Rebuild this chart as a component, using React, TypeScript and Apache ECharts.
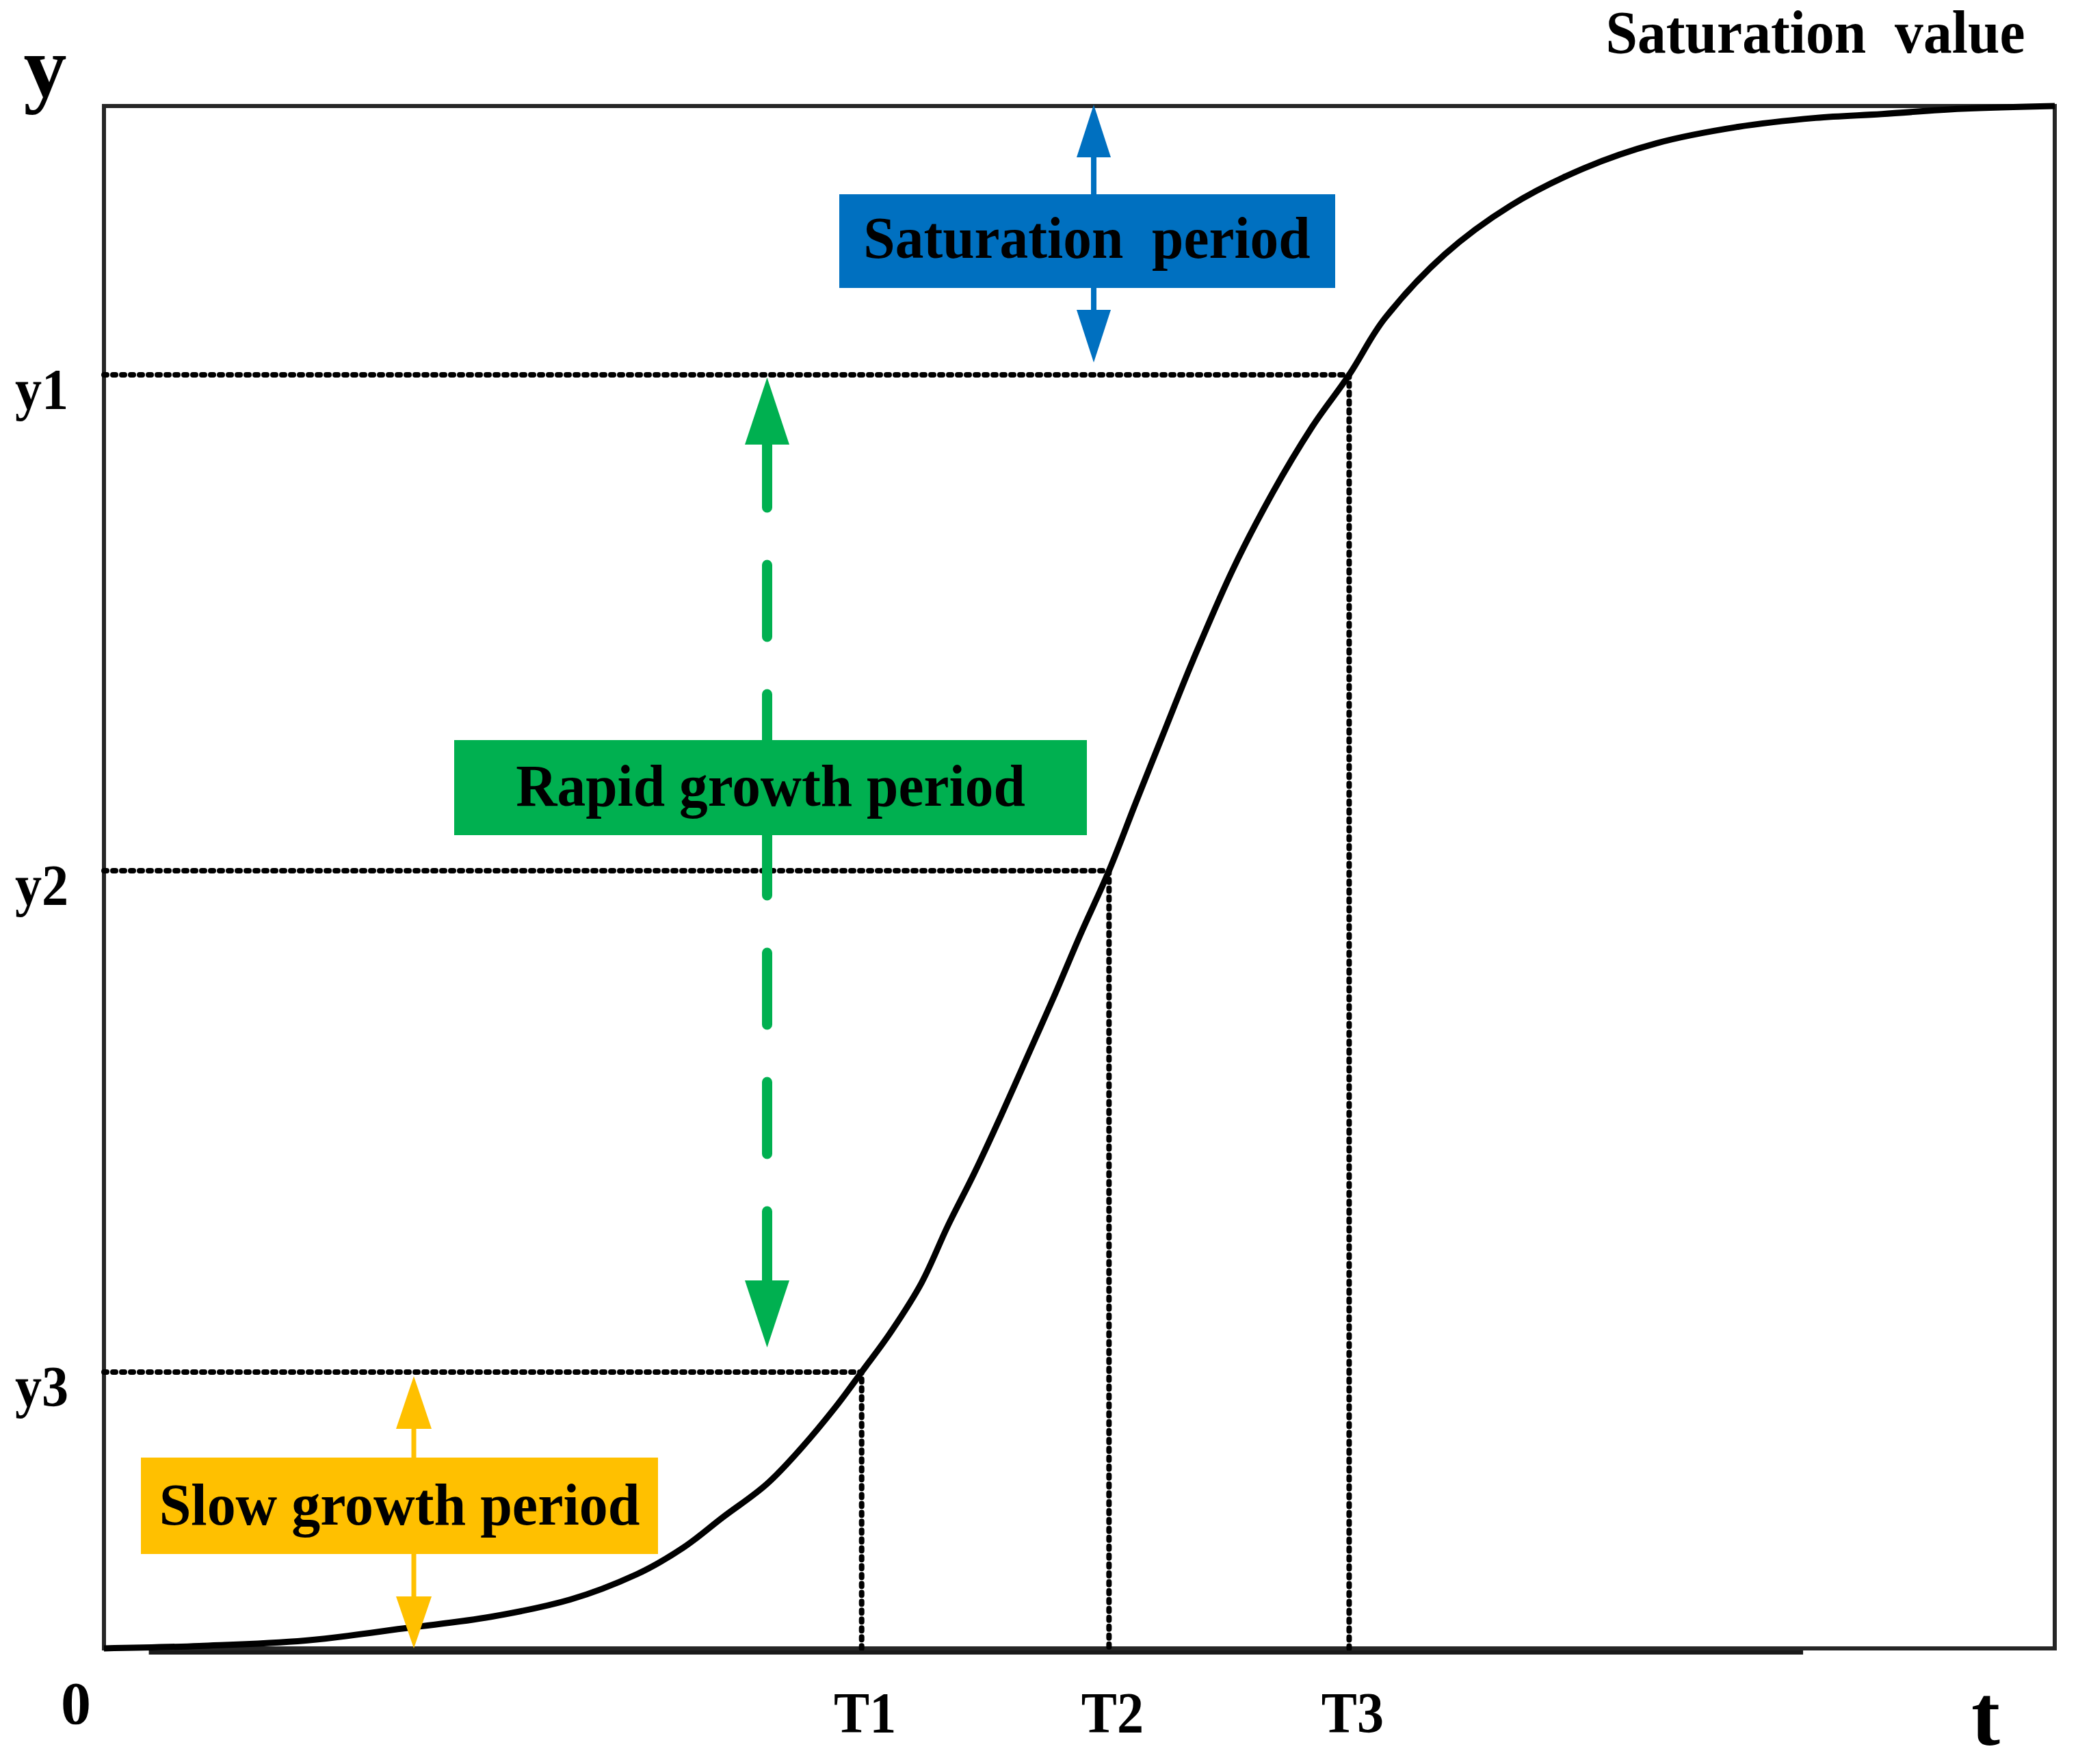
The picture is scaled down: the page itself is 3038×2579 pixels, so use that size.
import React, { useEffect, useRef } from "react";
import * as echarts from "echarts";

// ---- data (arbitrary units: t 0..100, y 0..100 where 100 = saturation value) ----
const curveT = [0, 4.89, 10.33, 15.76, 19.84, 23.91, 27.3, 29.68, 31.72, 33.96, 35.79, 37.49, 38.84, 40.34, 41.91, 43.26, 44.62, 45.98, 47.34, 48.7, 50.06, 51.52, 52.91, 54.27, 55.83, 57.86, 59.9, 61.94, 63.83, 65.67, 68.73, 72.13, 75.86, 79.6, 83.67, 87.75, 91.14, 95.22, 100];
const curveY = [0, 0.16, 0.51, 1.36, 2.05, 3.17, 4.8, 6.52, 8.5, 10.64, 13.05, 15.63, 17.92, 20.52, 23.7, 27.4, 30.83, 34.53, 38.39, 42.26, 46.3, 50.42, 54.89, 59.19, 64.08, 69.93, 74.91, 79.21, 82.57, 86.25, 90.38, 93.56, 95.96, 97.59, 98.63, 99.23, 99.48, 99.82, 100];
const pointT = [38.84, 51.52, 63.83];
const pointY = [17.92, 50.42, 82.57];
const tLabels = ["T1", "T2", "T3"];
const yLabels = ["y3", "y2", "y1"];
const baseLineT = [2.3, 87.1];
const baseLineY = [-0.27, -0.27];
const phaseNames = ["Slow growth period", "Rapid growth period", "Saturation  period"];

const FONT = '"Liberation Serif", "Times New Roman", serif';

export default function App() {
  const ref = useRef<HTMLDivElement>(null);

  useEffect(() => {
    if (!ref.current) return;
    const chart = echarts.init(ref.current, null, { renderer: "svg" });

    const guideSeries = pointT.map((t, i) => ({
      type: "line",
      data: [[0, pointY[i]], [t, pointY[i]], [t, 0]],
      symbol: "none",
      silent: true,
      z: 2,
      lineStyle: { color: "#000", width: 8, type: [4, 9], cap: "round" },
    }));

    chart.setOption({
      animation: false,
      backgroundColor: "#fff",
      grid: {
        left: 152,
        top: 155,
        width: 2852,
        height: 2255,
        show: true,
        borderColor: "#262626",
        borderWidth: 6,
        backgroundColor: "transparent",
      },
      xAxis: { type: "value", min: 0, max: 100, show: false },
      yAxis: { type: "value", min: 0, max: 100, show: false },
      series: [
        ...guideSeries,
        {
          type: "line",
          data: baseLineT.map((t, i) => [t, baseLineY[i]]),
          symbol: "none",
          clip: false,
          silent: true,
          z: 3,
          lineStyle: { color: "#1a1a1a", width: 6 },
        },
        {
          type: "line",
          data: curveT.map((t, i) => [t, curveY[i]]),
          symbol: "none",
          smooth: 0.35,
          clip: false,
          z: 5,
          lineStyle: { color: "#000", width: 9 },
        },
      ],
    });

    const P = (x: number, y: number) => chart.convertToPixel({ gridIndex: 0 }, [x, y]) as number[];
    const yTop = P(0, 100)[1];
    const yBottom = P(0, 0)[1];
    const xLeft = P(0, 0)[0];
    const y1px = P(0, pointY[2])[1];
    const y3px = P(0, pointY[0])[1];

    const text = (t: string, x: number, y: number, size: number, sx = 1) => ({
      type: "text",
      x,
      y,
      scaleX: sx,
      z: 20,
      style: {
        text: t,
        fill: "#000",
        fontSize: size,
        fontWeight: "bold",
        fontFamily: FONT,
        align: "center",
        verticalAlign: "middle",
      },
    });

    const tri = (cx: number, tip: number, base: number, hw: number, color: string) => ({
      type: "polygon",
      z: 12,
      shape: { points: [[cx, tip], [cx - hw, base], [cx + hw, base]] },
      style: { fill: color },
    });

    const shaft = (cx: number, a: number, b: number, w: number, color: string, dash?: number[]) => ({
      type: "line",
      z: 11,
      shape: { x1: cx, y1: a, x2: cx, y2: b },
      style: { stroke: color, lineWidth: w, lineCap: dash ? "round" : "butt", lineDash: dash || null },
    });

    const BLUE = "#0070C0";
    const GREEN = "#00B050";
    const YELLOW = "#FFC000";

    const blueX = 1599;
    const greenX = 1121.5;
    const yellowX = 605;

    const graphic: any[] = [
      // blue (saturation) arrow
      shaft(blueX, yTop + 73, yTop + 300, 8, BLUE),
      tri(blueX, yTop - 2, yTop + 75, 25, BLUE),
      tri(blueX, y1px - 18, y1px - 95, 25, BLUE),
      // green (rapid growth) arrow
      shaft(greenX, y1px + 89, y3px - 131, 15, GREEN, [105, 84]),
      tri(greenX, y1px + 4, y1px + 102, 32.5, GREEN),
      tri(greenX, y3px - 36, y3px - 134, 32.5, GREEN),
      // yellow (slow growth) arrow
      shaft(yellowX, y3px + 81, yBottom - 74, 7, YELLOW),
      tri(yellowX, y3px + 6, y3px + 83, 26, YELLOW),
      tri(yellowX, yBottom, yBottom - 76, 26, YELLOW),
      // boxes
      { type: "rect", z: 15, shape: { x: 1227, y: 284, width: 725, height: 137 }, style: { fill: BLUE } },
      { type: "rect", z: 15, shape: { x: 664, y: 1082, width: 925, height: 139 }, style: { fill: GREEN } },
      { type: "rect", z: 15, shape: { x: 206, y: 2131, width: 756, height: 141 }, style: { fill: YELLOW } },
      text(phaseNames[2], 1589, 348, 86, 0.97),
      text(phaseNames[1], 1126.5, 1149, 86, 0.97),
      text(phaseNames[0], 584, 2199, 87, 0.965),
      // axis labels
      text("y", 66, 98, 126),
      text("t", 2903, 2508, 126),
      text("0", xLeft - 41, 2490, 88),
      text("Saturation  value", 2654, 48, 88, 0.95),
      ...pointT.map((t, i) => text(tLabels[i], P(t, 0)[0] + 5, 2504, 85, 0.92)),
      ...pointY.map((v, i) => text(yLabels[i], 61, P(0, v)[1] + 21, 85, 0.92)),
    ];

    chart.setOption({ graphic });

    return () => chart.dispose();
  }, []);

  return (
    <div
      ref={ref}
      style={{ position: "fixed", left: 0, top: 0, width: 3038, height: 2579, background: "#fff" }}
    />
  );
}
